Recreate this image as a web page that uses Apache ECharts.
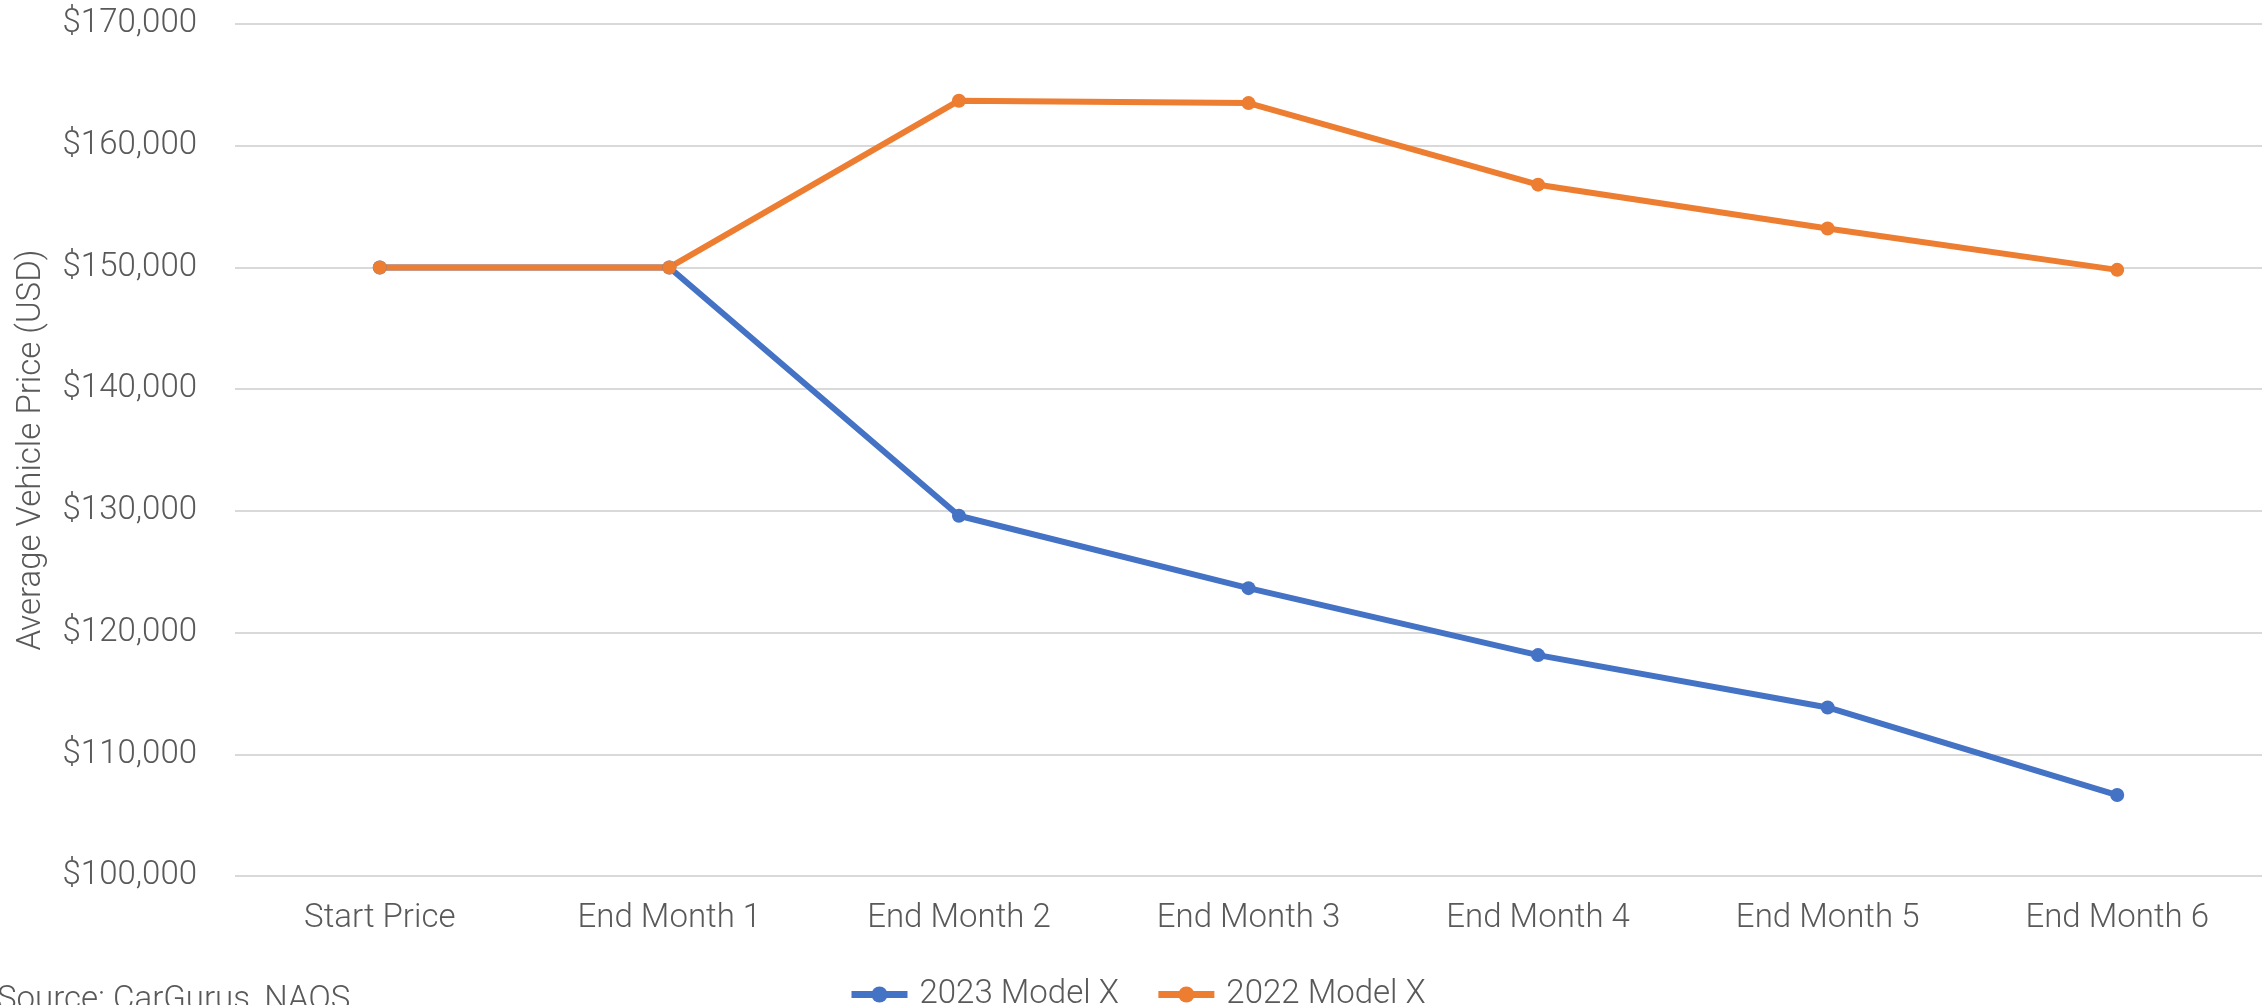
<!DOCTYPE html>
<html>
<head>
<meta charset="utf-8">
<script src="https://cdn.jsdelivr.net/npm/echarts@6/dist/echarts.min.js"></script>
<style>
  html, body { margin: 0; padding: 0; background: #fff; }
  #chart { width: 2264px; height: 1005px; }
</style>
</head>
<body>
<div id="chart"></div>
<script>
// data
const categories = ['Start Price', 'End Month 1', 'End Month 2', 'End Month 3', 'End Month 4', 'End Month 5', 'End Month 6']
const model2023 = [150000, 150000, 129600, 123650, 118150, 113850, 106650]
const model2022 = [150000, 150000, 163700, 163500, 156800, 153200, 149800]
const seriesNames = ['2023 Model X', '2022 Model X']

const textColor = '#595959'
const fontFamily = 'Roboto, "Liberation Sans", sans-serif'

const chart = echarts.init(document.getElementById('chart'))

const lineSeries = (name, data, color) => ({
  name,
  type: 'line',
  data,
  symbol: 'circle',
  symbolSize: 14,
  lineStyle: { width: 6, color },
  itemStyle: { color },
  emphasis: { disabled: true }
})

const option = {
  animation: false,
  textStyle: { fontFamily },
  grid: {
    left: 235,
    right: 2,
    top: 24,
    bottom: 129
  },
  legend: {
    data: seriesNames,
    left: 843,
    top: 973,
    itemWidth: 56,
    itemHeight: 20,
    itemGap: 36,
    lineStyle: { width: 7 },
    textStyle: { color: textColor, fontSize: 33, fontWeight: 300, fontFamily, padding: [0, 0, 0, 7] }
  },
  xAxis: {
    type: 'category',
    data: categories,
    boundaryGap: true,
    axisLine: { show: false },
    axisTick: { show: false },
    axisLabel: { color: textColor, fontSize: 33, fontWeight: 300, margin: 26 }
  },
  yAxis: {
    type: 'value',
    min: 100000,
    max: 170000,
    interval: 10000,
    name: 'Average Vehicle Price (USD)',
    nameLocation: 'middle',
    nameGap: 187,
    nameTextStyle: { color: textColor, fontSize: 33, fontWeight: 300 },
    axisLine: { show: false },
    axisTick: { show: false },
    axisLabel: {
      color: textColor,
      fontSize: 33,
      fontWeight: 300,
      margin: 38,
      formatter: (v) => '$' + v.toLocaleString('en-US')
    },
    splitLine: { lineStyle: { color: '#D9D9D9', width: 2 } }
  },
  graphic: [
    {
      type: 'text',
      left: -3,
      top: 984,
      style: { text: 'Source: CarGurus, NAQS', fill: textColor, fontSize: 33, fontWeight: 300, fontFamily }
    }
  ],
  series: [
    lineSeries(seriesNames[0], model2023, '#4472C4'),
    lineSeries(seriesNames[1], model2022, '#ED7D31')
  ]
}

chart.setOption(option)
</script>
</body>
</html>
